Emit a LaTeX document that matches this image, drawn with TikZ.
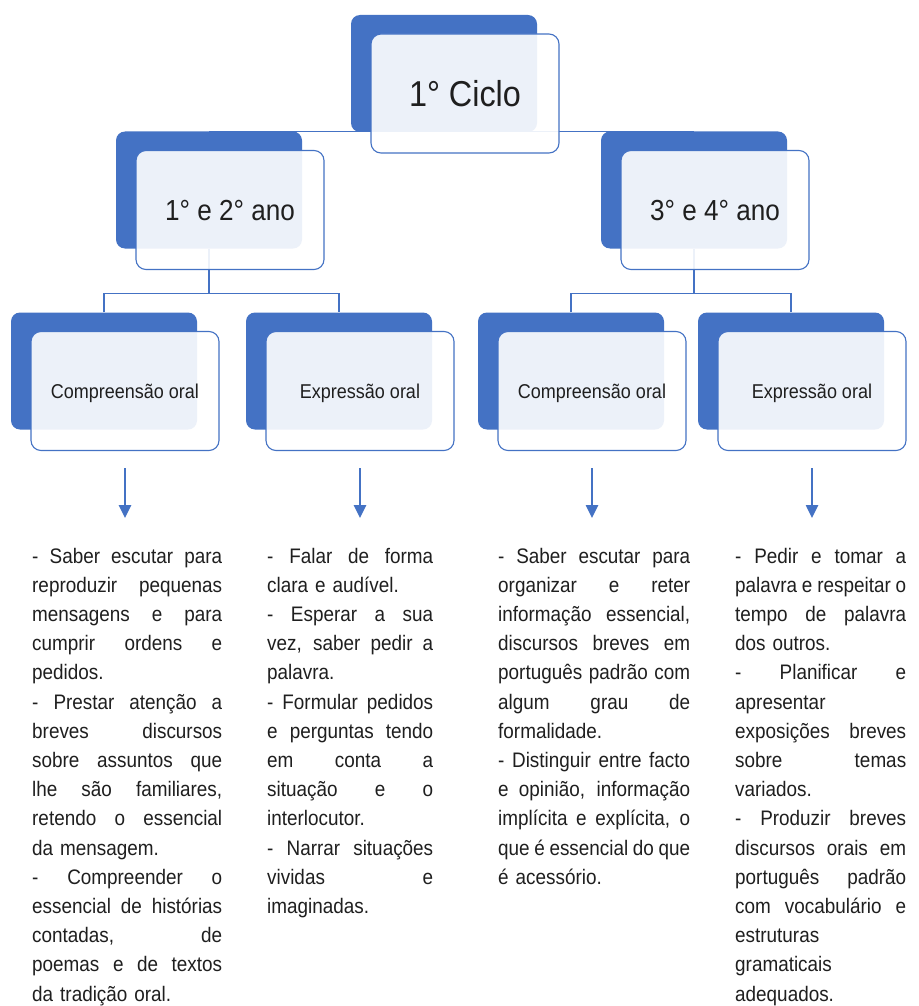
\documentclass[tikz,border=0pt]{standalone}
\usepackage{fontspec}
\setmainfont{Liberation Sans}[FakeStretch=0.9]
\usetikzlibrary{arrows.meta}
\definecolor{azul}{HTML}{4472C4}
\definecolor{texto}{HTML}{1F1F1F}
\newlength{\colw}
\newcommand{\jl}[1]{\makebox[\colw][s]{\spaceskip=\fontdimen2\font plus 1fil minus \fontdimen4\font #1}}

\begin{document}
\begin{tikzpicture}[x=1pt,y=-1pt,
    fundo/.style={fill=azul, rounded corners=9pt, minimum width=186pt, minimum height=117pt, inner sep=0pt},
    frente/.style={draw=azul, line width=1.1pt, fill=white, fill opacity=0.9, text opacity=1, text=texto,
      rounded corners=10pt, minimum width=188pt, minimum height=119pt, inner sep=0pt, text depth=0pt},
    ligacao/.style={draw=azul, line width=1.2pt},
    seta/.style={draw=azul, line width=2.4pt, -{Triangle[width=12pt,length=13pt]}},
    lista/.style={anchor=base west, inner sep=0pt, align=left, text=texto, font=\fontsize{21}{29.2}\selectfont}]
    \path[use as bounding box, fill=white] (0,0) rectangle (918,1006);

    \coordinate (C0) at (444,73.5);
    \coordinate (A12) at (209,190);
    \coordinate (A34) at (694,190);
    \coordinate (CO12) at (104,371);
    \coordinate (EO12) at (339,371);
    \coordinate (CO34) at (571,371);
    \coordinate (EO34) at (791,371);

    \node[fundo] (ciclo-fundo) at (C0) {};
    \node[fundo] (ano12-fundo) at (A12) {};
    \node[fundo] (ano34-fundo) at (A34) {};
    \node[fundo] (co12-fundo) at (CO12) {};
    \node[fundo] (eo12-fundo) at (EO12) {};
    \node[fundo] (co34-fundo) at (CO34) {};
    \node[fundo] (eo34-fundo) at (EO34) {};

    \draw[ligacao] (ano12-fundo.north) -- (ano34-fundo.north);
    \draw[ligacao] (ano12-fundo.south) -- ++(0,45) coordinate (J12);
    \draw[ligacao] (co12-fundo.north) |- (J12) -| (eo12-fundo.north);
    \draw[ligacao] (ano34-fundo.south) -- ++(0,45) coordinate (J34);
    \draw[ligacao] (co34-fundo.north) |- (J34) -| (eo34-fundo.north);

    \node[frente, font=\fontsize{36}{40}\selectfont, text height=26pt] (ciclo) at ([shift={(21,20)}]C0) {1° Ciclo};
    \node[frente, font=\fontsize{29}{34}\selectfont, text height=21pt] (ano12) at ([shift={(21,20)}]A12) {1° e 2° ano};
    \node[frente, font=\fontsize{29}{34}\selectfont, text height=21pt] (ano34) at ([shift={(21,20)}]A34) {3° e 4° ano};
    \node[frente, font=\fontsize{20}{24}\selectfont, text height=14.4pt] (co12) at ([shift={(21,20)}]CO12) {Compreensão oral};
    \node[frente, font=\fontsize{20}{24}\selectfont, text height=14.4pt] (eo12) at ([shift={(21,20)}]EO12) {Expressão oral};
    \node[frente, font=\fontsize{20}{24}\selectfont, text height=14.4pt] (co34) at ([shift={(21,20)}]CO34) {Compreensão oral};
    \node[frente, font=\fontsize{20}{24}\selectfont, text height=14.4pt] (eo34) at ([shift={(21,20)}]EO34) {Expressão oral};

    \draw[seta] ([yshift=-17pt]co12.south) -- ++(0,50);
    \draw[seta] ([yshift=-17pt]eo12.south) -- ++(0,50);
    \draw[seta] ([yshift=-17pt]co34.south) -- ++(0,50);
    \draw[seta] ([yshift=-17pt]eo34.south) -- ++(0,50);

    \node[lista, text width=190pt] (t-co12) at (32,563) {\setlength{\colw}{190pt}%
      \jl{- Saber escutar para}\\
      \jl{reproduzir pequenas}\\
      \jl{mensagens e para}\\
      \jl{cumprir ordens e}\\
      pedidos.\\
      \jl{- Prestar atenção a}\\
      \jl{breves discursos}\\
      \jl{sobre assuntos que}\\
      \jl{lhe são familiares,}\\
      \jl{retendo o essencial}\\
      da mensagem.\\
      \jl{- Compreender o}\\
      \jl{essencial de histórias}\\
      \jl{contadas, de}\\
      \jl{poemas e de textos}\\
      da tradição oral.};
    \node[lista, text width=166pt] (t-eo12) at (267,563) {\setlength{\colw}{166pt}%
      \jl{- Falar de forma}\\
      clara e audível.\\
      \jl{- Esperar a sua}\\
      \jl{vez, saber pedir a}\\
      palavra.\\
      \jl{- Formular pedidos}\\
      \jl{e perguntas tendo}\\
      \jl{em conta a}\\
      \jl{situação e o}\\
      interlocutor.\\
      \jl{- Narrar situações}\\
      \jl{vividas e}\\
      imaginadas.};
    \node[lista, text width=192pt] (t-co34) at (498,563) {\setlength{\colw}{192pt}%
      \jl{- Saber escutar para}\\
      \jl{organizar e reter}\\
      \jl{informação essencial,}\\
      \jl{discursos breves em}\\
      \jl{português padrão com}\\
      \jl{algum grau de}\\
      formalidade.\\
      \jl{- Distinguir entre facto}\\
      \jl{e opinião, informação}\\
      \jl{implícita e explícita, o}\\
      \jl{que é essencial do que}\\
      é acessório.};
    \node[lista, text width=171pt] (t-eo34) at (735,563) {\setlength{\colw}{171pt}%
      \jl{- Pedir e tomar a}\\
      \jl{palavra e respeitar o}\\
      \jl{tempo de palavra}\\
      dos outros.\\
      \jl{- Planificar e}\\
      apresentar\\
      \jl{exposições breves}\\
      \jl{sobre temas}\\
      variados.\\
      \jl{- Produzir breves}\\
      \jl{discursos orais em}\\
      \jl{português padrão}\\
      \jl{com vocabulário e}\\
      estruturas\\
      gramaticais\\
      adequados.};
\end{tikzpicture}
\end{document}
